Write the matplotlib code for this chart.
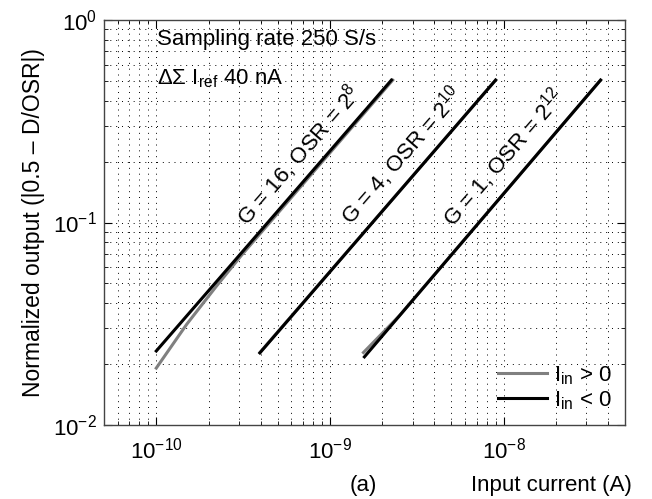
import matplotlib
matplotlib.use("Agg")
import matplotlib.pyplot as plt
from matplotlib.ticker import NullFormatter

plt.rcParams["font.family"] = ["Liberation Sans", "DejaVu Sans"]
plt.rcParams["mathtext.fontset"] = "custom"
plt.rcParams["mathtext.rm"] = "Liberation Sans"
plt.rcParams["mathtext.it"] = "Liberation Sans:italic"
plt.rcParams["mathtext.bf"] = "Liberation Sans:bold"

# input current (A) and normalized output
g16_pos_x = [1.0e-10, 1.5e-10, 2.2e-10, 3.1e-10, 2.3e-9]
g16_pos_y = [0.0191, 0.0315, 0.048, 0.069, 0.505]
g16_neg_x = [1.0e-10, 2.26e-9]
g16_neg_y = [0.0232, 0.505]

g4_pos_x = [3.95e-10, 9.0e-9]
g4_pos_y = [0.0228, 0.505]
g4_neg_x = [3.95e-10, 9.0e-9]
g4_neg_y = [0.0227, 0.505]

g1_pos_x = [1.56e-9, 2.5e-9, 3.62e-8]
g1_pos_y = [0.0228, 0.0345, 0.505]
g1_neg_x = [1.58e-9, 3.62e-8]
g1_neg_y = [0.0217, 0.505]

labels = [r"G = 16, OSR = 2$^{8}$", r"G = 4, OSR = 2$^{10}$", r"G = 1, OSR = 2$^{12}$"]
label_x = [6.6e-10, 2.6e-9, 1.0e-8]
label_y = [0.215, 0.215, 0.21]

x_major = [1e-10, 1e-9, 1e-8]
y_major = [1e-2, 1e-1, 1e0]
x_minor = [m * d for d in [1e-11, 1e-10, 1e-9, 1e-8] for m in range(2, 10)
           if 5e-11 <= m * d <= 5e-8]
y_minor = [m * d for d in [1e-2, 1e-1] for m in range(2, 10)]

gray = "#808080"

fig = plt.figure(figsize=(6.52, 4.99), dpi=100)
ax = fig.add_axes([0.1595, 0.1483, 0.799, 0.8116])

ax.loglog(g16_pos_x, g16_pos_y, color=gray, lw=2.2, label=r"I$_{\rm in}$ > 0")
ax.loglog(g4_pos_x, g4_pos_y, color=gray, lw=2.2)
ax.loglog(g1_pos_x, g1_pos_y, color=gray, lw=2.2)
ax.loglog(g16_neg_x, g16_neg_y, color="black", lw=2.2, label=r"I$_{\rm in}$ < 0")
ax.loglog(g4_neg_x, g4_neg_y, color="black", lw=2.2)
ax.loglog(g1_neg_x, g1_neg_y, color="black", lw=2.2)

ax.set_xlim(5e-11, 5e-8)
ax.set_ylim(1e-2, 1)

ax.set_xticks(x_major)
ax.set_yticks(y_major)
ax.set_xticks(x_minor, minor=True)
ax.set_yticks(y_minor, minor=True)
ax.xaxis.set_minor_formatter(NullFormatter())
ax.yaxis.set_minor_formatter(NullFormatter())

ax.tick_params(which="both", direction="in", top=True, right=True, labelsize=16)
ax.tick_params(which="major", length=6, width=0.8)
ax.tick_params(which="minor", length=3, width=0.6)
ax.tick_params(axis="x", pad=9)
ax.tick_params(axis="y", pad=5)
ax.grid(True, which="both", linestyle=(0, (1, 5)), color="black", lw=0.7)
for s in ax.spines.values():
    s.set_color("#444444")
    s.set_linewidth(1.0)

for t, x, y in zip(labels, label_x, label_y):
    ax.text(x, y, t, rotation=49, ha="center", va="center", fontsize=16)

ax.text(0.102, 0.951, "Sampling rate 250 S/s", transform=ax.transAxes,
        fontsize=16, va="center", ha="left")
ax.text(0.102, 0.855, r"$\Delta\Sigma$ I$_{\rm ref}$ 40 nA", transform=ax.transAxes,
        fontsize=16, va="center", ha="left")

ax.set_ylabel("Normalized output (|0.5 \u2013 D/OSR|)", fontsize=16.5, labelpad=6)
fig.text(0.845, 0.028, "Input current (A)", fontsize=16, ha="center", va="center")
fig.text(0.557, 0.028, "(a)", fontsize=16, ha="center", va="center")

ax.legend(loc="lower right", bbox_to_anchor=(1.0, 0.0), frameon=False, fontsize=16,
          handlelength=2.2, handletextpad=0.3, labelspacing=0.1, borderaxespad=0.2)

fig.savefig("out.png", dpi=100)
